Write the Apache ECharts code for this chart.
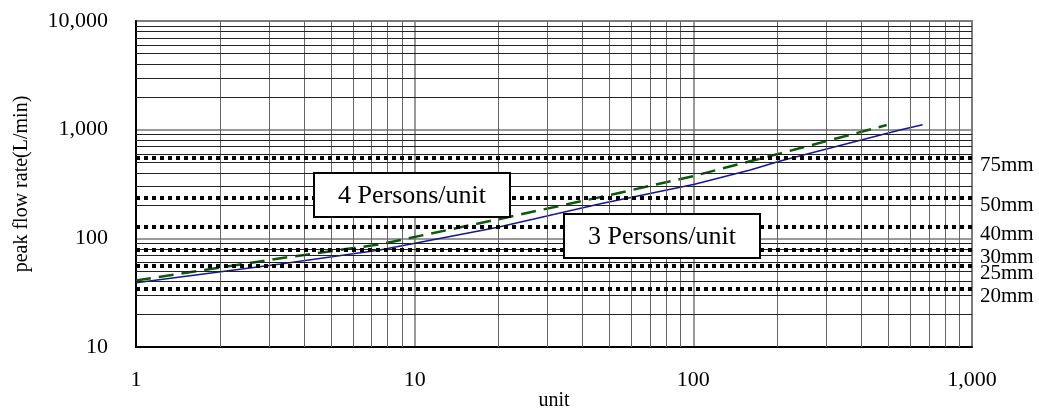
<!DOCTYPE html>
<html>
<head>
<meta charset="utf-8">
<style>html,body{margin:0;padding:0;background:#fff}#chart{width:1039px;height:408px}</style>
<script src="https://cdn.jsdelivr.net/npm/echarts@6/dist/echarts.min.js"></script>
</head>
<body>
<div id="chart"></div>
<script>
/* ---------- data ---------- */
const units3 = [1, 3.3, 7.5, 19.7, 46, 101, 160, 205, 551, 665];
const flow3  = [39, 58, 78, 126, 207, 314, 425, 514, 991, 1109];
const units4 = [1, 3.3, 7.5, 20, 50, 100, 205, 494];
const flow4  = [41, 65.5, 88, 150, 250, 374, 605, 1102];
const pipeSizes = ['75mm', '50mm', '40mm', '30mm', '25mm', '20mm'];
const pipeFlows = [550, 237, 128, 78, 55.5, 34];
const xDecades = [1, 10, 100];          // decades of the unit axis
const yDecades = [10, 100, 1000];       // decades of the flow axis
const minorSteps = [2, 3, 4, 5, 6, 7, 8, 9];

const FONT = 'Liberation Serif';
const xMinor = xDecades.flatMap(d => minorSteps.map(m => m * d));
const yMinor = yDecades.flatMap(d => minorSteps.map(m => m * d));
const fmt = v => Math.round(v).toLocaleString('en-US');

// 注释框 (rect + text)
const noteBox = (left, top, text) => ({
    type: 'group', left, top, z: 100,
    children: [
        { type: 'rect', z: 100, shape: { x: 0, y: 0, width: 196, height: 44 }, style: { fill: '#fff', stroke: '#000', lineWidth: 2 } },
        { type: 'text', z: 101, x: 98, y: 23, style: { text, font: '26px "Liberation Serif"', fill: '#000', align: 'center', verticalAlign: 'middle' } }
    ]
});

const chart = echarts.init(document.getElementById('chart'));
chart.setOption({
    animation: false,
    textStyle: { fontFamily: FONT, color: '#000' },
    grid: {
        left: 136, right: 67, top: 21, bottom: 61, outerBoundsMode: 'none',
        show: true, borderColor: '#888', borderWidth: 2, backgroundColor: '#fff'
    },
    xAxis: {
        type: 'log', logBase: 10, min: 1, max: 1000,
        axisLine: { show: true, onZero: false, lineStyle: { color: '#000', width: 2 } },
        axisTick: { show: false },
        axisLabel: { margin: 22, fontSize: 22, fontFamily: FONT, color: '#000', formatter: fmt, showMinLabel: true, showMaxLabel: true },
        splitLine: { show: true, lineStyle: { color: '#777', width: 1.5 } },
        name: 'unit', nameLocation: 'middle', nameGap: 44, nameMoveOverlap: false,
        nameTextStyle: { fontSize: 20, fontFamily: FONT, color: '#000' }
    },
    yAxis: {
        type: 'log', logBase: 10, min: 10, max: 10000,
        axisLine: { show: true, onZero: false, lineStyle: { color: '#000', width: 2 } },
        axisTick: { show: false },
        axisLabel: { margin: 28, fontSize: 22, fontFamily: FONT, color: '#000', formatter: fmt, showMinLabel: true, showMaxLabel: true },
        splitLine: { show: true, lineStyle: { color: '#777', width: 1.5 } },
        name: 'peak flow rate(L/min)', nameLocation: 'middle', nameGap: 104, nameMoveOverlap: false,
        nameTextStyle: { fontSize: 20, fontFamily: FONT, color: '#000' }
    },
    series: [
        {   // minor grid (2..9 of each decade)
            type: 'line', data: [], silent: true, z: 1,
            markLine: {
                silent: true, symbol: ['none', 'none'], label: { show: false },
                lineStyle: { type: 'solid', color: '#666', width: 1 },
                data: xMinor.map(v => ({ xAxis: v }))
                    .concat(yMinor.map(v => ({ yAxis: v, lineStyle: { type: 'solid', color: '#222', width: 1 } })))
            }
        },
        {   // pipe size capacity lines
            type: 'line', data: [], silent: true, z: 2,
            markLine: {
                silent: true, symbol: ['none', 'none'],
                lineStyle: { type: [4, 4], color: '#000', width: 4, cap: 'butt' },
                label: {
                    show: true, position: 'end', distance: 8,
                    fontSize: 21, fontFamily: FONT, color: '#000',
                    rich: { t: { fontSize: 21, fontFamily: FONT, color: '#000', padding: [15, 0, 0, 0] } }
                },
                data: pipeFlows.map((v, i) => ({ yAxis: v, label: { formatter: '{t|' + pipeSizes[i] + '}' } }))
            }
        },
        {
            name: '3 Persons/unit', type: 'line', z: 4, showSymbol: false,
            data: units3.map((u, i) => [u, flow3[i]]),
            lineStyle: { color: '#16169a', width: 1.6 }
        },
        {
            name: '4 Persons/unit', type: 'line', z: 4, showSymbol: false,
            data: units4.map((u, i) => [u, flow4[i]]),
            lineStyle: { color: '#0b5a0b', width: 2.5, type: [15, 8] }
        }
    ],
    graphic: [noteBox(313, 172, '4 Persons/unit'), noteBox(563, 213, '3 Persons/unit')]
});
</script>
</body>
</html>
